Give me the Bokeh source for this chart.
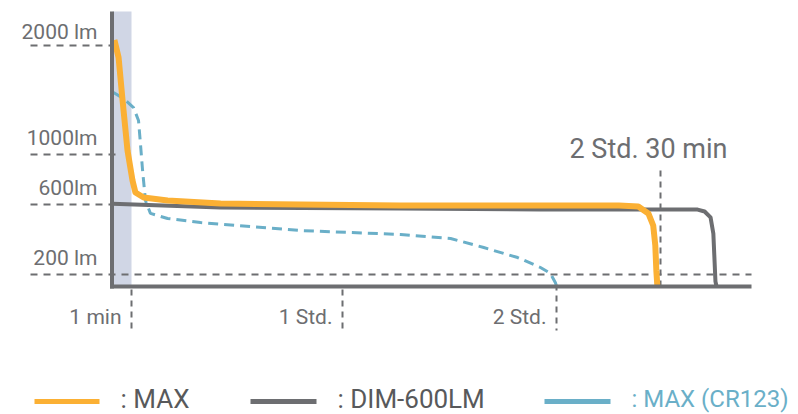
import numpy as np
from bokeh.plotting import figure
from bokeh.models import Range1d
from bokeh.core.properties import value
from bokeh.embed import file_html
from bokeh.resources import INLINE

# ---------------- data ----------------
# time axis breakpoints (minutes) and their tick labels
X_TICK_MIN = [1, 60, 120]
X_TICK_LABELS = ["1 min", "1 Std.", "2 Std."]
MARK_MIN = 150
MARK_LABEL = "2 Std. 30 min"
X_END_MIN = 176

# lumen axis ticks
Y_TICK_LM = [2000, 1000, 600, 200]
Y_TICK_LABELS = ["2000 lm", "1000lm", "600lm", "200 lm"]

# MAX (orange)
max_t = [0.1, 0.32, 0.53, 0.79, 1.28, 2.1, 4.4, 11.1, 25.9, 48.3, 76.3, 115.5, 138.0, 143.6, 146.5, 147.9, 148.5, 148.8, 149.1]
max_lm = [2050, 1890, 1495, 1037, 792, 696, 656, 632, 608, 600, 594, 594, 594, 589, 549, 480, 366, 223, 0]

# DIM-600LM (grey)
dim_t = [0.0, 25.9, 76.3, 115.5, 160.6, 162.6, 164.3, 165.1, 165.7, 166.0]
dim_lm = [606, 583, 577, 571, 571, 560, 526, 434, 86, 0]

# MAX (CR123) (blue dashed)
cr_t = [0.05, 0.58, 1.56, 2.96, 3.5, 4.1, 4.9, 6.3, 11.1, 20.3, 48.3, 76.3, 90.3, 99.6, 109.1, 115.5, 118.3, 119.7, 120.0]
cr_lm = [1569, 1514, 1431, 1312, 1101, 872, 632, 549, 520, 497, 451, 429, 406, 354, 297, 240, 206, 62, 10]

LEGEND_LABELS = [": MAX", ": DIM-600LM", ": MAX (CR123)"]

# ---------------- non-linear axis scales (as drawn in the original) ----------------
X_BREAK_MIN = [0, 1, 60, 120, 150]
X_BREAK_POS = [0, 19, 230, 444, 548]
Y_BREAK_LM = [0, 200, 600, 1000, 2000]
Y_BREAK_POS = [0, 12, 82, 132, 241]


def tx(t):
    t = np.asarray(t, dtype=float)
    out = np.interp(t, X_BREAK_MIN, X_BREAK_POS)
    return np.where(t > 150, 548 + (t - 150) * 3.5, out)


def ty(lm):
    lm = np.asarray(lm, dtype=float)
    out = np.interp(lm, Y_BREAK_LM, Y_BREAK_POS)
    return np.where(lm > 2000, 241 + (lm - 2000) * 0.109, out)


ORANGE = "#fbb034"
GREY = "#6d6e71"
BLUE = "#6aafc8"
TXT = "#6d6e71"
FONT = value("Roboto")

p = figure(width=798, height=414, x_range=Range1d(-112, 686), y_range=Range1d(-128, 286),
           x_axis_type=None, y_axis_type=None, output_backend="svg", toolbar_location=None,
           min_border=0)
p.grid.visible = False
p.outline_line_color = None
p.background_fill_color = "white"
p.border_fill_color = "white"

# shaded first minute
p.quad(left=[float(tx(0))], right=[float(tx(1))], bottom=[0], top=[275],
       fill_color="#d0d6e5", line_color=None)

# horizontal dashed reference lines
x_end = float(tx(X_END_MIN))
h_x1 = [8, 8, 0, x_end]
p.segment(x0=[-82] * 4, x1=h_x1, y0=ty(Y_TICK_LM), y1=ty(Y_TICK_LM),
          line_color=GREY, line_width=2, line_dash="7 6")

# vertical dashed tick lines
p.segment(x0=tx(X_TICK_MIN), x1=tx(X_TICK_MIN), y0=[-3, -3, 2], y1=[-44] * 3,
          line_color=GREY, line_width=2, line_dash="6 5")
p.segment(x0=[float(tx(MARK_MIN))], x1=[float(tx(MARK_MIN))], y0=[116], y1=[0],
          line_color=GREY, line_width=2, line_dash="6 5")

# curves
p.line(tx(cr_t), ty(cr_lm), line_color=BLUE, line_width=3, line_dash="10 6")
p.line(tx(dim_t), ty(dim_lm), line_color=GREY, line_width=4, line_join="round")
p.line(tx(max_t), ty(max_lm), line_color=ORANGE, line_width=6, line_join="round")

# axes lines
p.segment(x0=[-0.5], x1=[-0.5], y0=[-2], y1=[275], line_color=GREY, line_width=4)
p.segment(x0=[-2.5], x1=[x_end], y0=[0], y1=[0], line_color=GREY, line_width=4)

# y labels
y_lab_off = np.array([14, 17, 17, 17])
p.text(x=[-15] * 4, y=ty(Y_TICK_LM) + y_lab_off, text=Y_TICK_LABELS, text_font=FONT,
       text_font_size="21px", text_color=TXT, text_align="right", text_baseline="middle")
# x labels
p.text(x=tx(X_TICK_MIN) - 10, y=[-30] * 3, text=X_TICK_LABELS, text_font=FONT,
       text_font_size="21px", text_color=TXT, text_align="right", text_baseline="middle")
# mark label
p.text(x=[float(tx(MARK_MIN)) - 91], y=[138], text=[MARK_LABEL], text_font=FONT,
       text_font_size="27px", text_color=TXT, text_align="left", text_baseline="middle")

# legend
leg_x0 = [-78, 138, 432]
leg_x1 = [-13, 204, 498]
p.segment(x0=leg_x0, x1=leg_x1, y0=[-115] * 3, y1=[-115] * 3,
          line_color=[ORANGE, GREY, BLUE], line_width=5)
p.text(x=[8, 225], y=[-112] * 2, text=LEGEND_LABELS[:2], text_font=FONT,
       text_font_size="26px", text_color="#58595b",
       text_align="left", text_baseline="middle")
p.text(x=[519], y=[-112], text=LEGEND_LABELS[2:], text_font=FONT,
       text_font_size="24px", text_color=BLUE,
       text_align="left", text_baseline="middle")

open("out.html", "w").write(file_html(p, INLINE))
